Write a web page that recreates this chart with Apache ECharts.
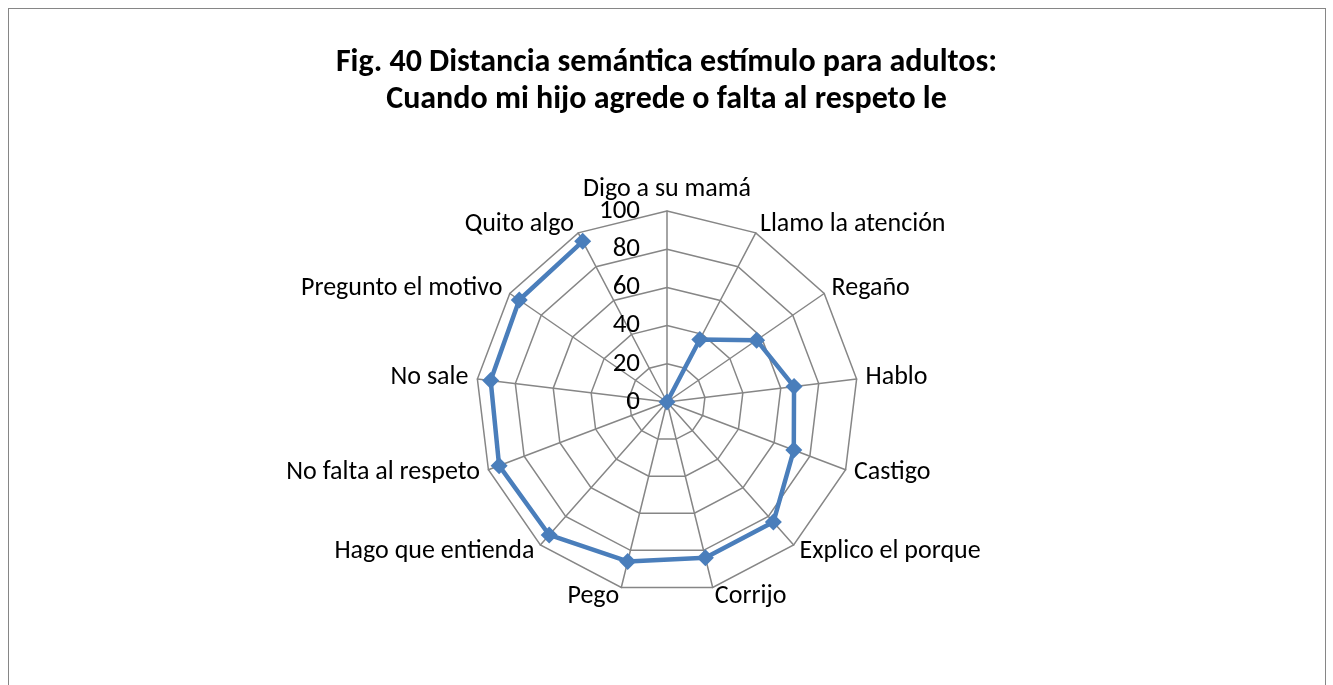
<!DOCTYPE html>
<html>
<head>
<meta charset="utf-8">
<script src="https://cdn.jsdelivr.net/npm/echarts@6/dist/echarts.min.js"></script>
<style>
  html, body { margin: 0; padding: 0; background: #fff; }
  #frame { position: absolute; left: 8px; top: 8px; width: 1316px; height: 700px; border: 1px solid #868686; }
  #chart { position: absolute; left: 0; top: 0; width: 1333px; height: 685px; }
</style>
</head>
<body>
<div id="frame"></div>
<div id="chart"></div>
<script>
// categories, clockwise from the top
const categories = ['Digo a su mamá', 'Llamo la atención', 'Regaño', 'Hablo', 'Castigo', 'Explico el porque',
  'Corrijo', 'Pego', 'Hago que entienda', 'No falta al respeto', 'No sale', 'Pregunto el motivo', 'Quito algo']
const values = [0, 37, 57, 67, 71, 84, 84, 86, 93, 94, 93, 94, 95]
const tickLabels = ['0', '20', '40', '60', '80', '100']

const font = "'Carlito', 'Open Sans', sans-serif"
const center = [667, 402]
const radius = 191

// echarts lays radar axes out counter-clockwise, so flip everything after the first one
const order = [0].concat(categories.map((c, i) => i).slice(1).reverse())
const indicators = order.map(i => ({ name: categories[i], min: 0, max: 100 }))

const chart = echarts.init(document.getElementById('chart'))

chart.setOption({
  animation: false,
  title: {
    text: 'Fig. 40 Distancia semántica estímulo para adultos:\nCuando mi hijo agrede o falta al respeto le',
    left: 'center',
    top: 39,
    textStyle: {
      fontFamily: font,
      fontSize: 32,
      fontWeight: 'bold',
      color: '#000',
      lineHeight: 37
    }
  },
  // web + category names
  radar: {
    center: center,
    radius: radius,
    startAngle: 90,
    shape: 'polygon',
    splitNumber: 5,
    indicator: indicators,
    axisName: {
      color: '#000',
      fontFamily: font,
      fontSize: 26
    },
    nameGap: 9,
    axisLine: { lineStyle: { color: '#868686', width: 1.5 } },
    splitLine: { lineStyle: { color: '#868686', width: 1.5 } },
    splitArea: { show: false },
    axisTick: { show: false },
    axisLabel: { show: false }
  },
  // the series itself goes on a hidden polar system so the line stays open (no Quito -> Digo segment)
  polar: { center: center, radius: radius },
  angleAxis: {
    type: 'category',
    data: categories,
    startAngle: 90,
    clockwise: true,
    boundaryGap: false,
    show: false
  },
  radiusAxis: { type: 'value', min: 0, max: 100, show: false },
  // tick labels of the top spoke, drawn by an invisible value axis lined up with it
  grid: { left: center[0], top: center[1] - radius, width: 1, height: radius },
  xAxis: { type: 'value', show: false },
  yAxis: {
    type: 'value',
    min: 0,
    max: 100,
    interval: 20,
    axisLine: { show: false },
    axisTick: { show: false },
    splitLine: { show: false },
    axisLabel: {
      margin: 27,
      color: '#000',
      fontFamily: font,
      fontSize: 27,
      formatter: v => tickLabels[v / 20]
    }
  },
  series: [
    {
      type: 'line',
      coordinateSystem: 'polar',
      symbol: 'diamond',
      symbolSize: 17,
      lineStyle: { color: '#4a7ebb', width: 4.5 },
      itemStyle: { color: '#4a7ebb' },
      data: values
    }
  ]
})
</script>
</body>
</html>
